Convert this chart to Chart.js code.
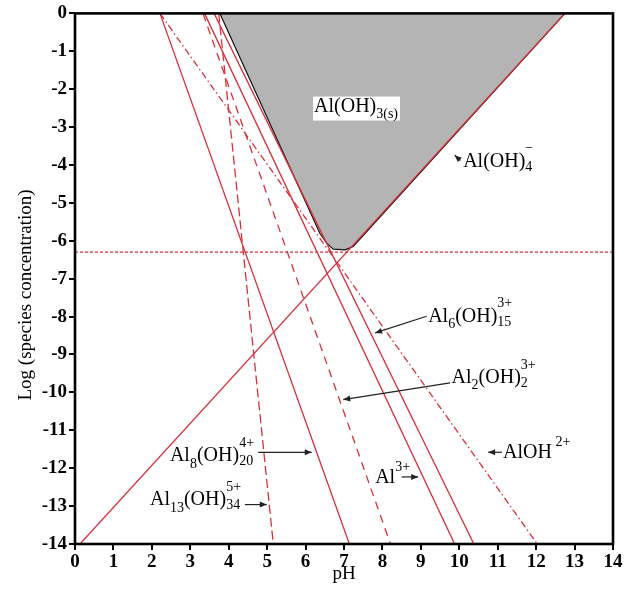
<!DOCTYPE html>
<html><head><meta charset="utf-8">
<script src="https://cdn.jsdelivr.net/npm/chart.js@4"></script>
<style>html,body{margin:0;padding:0;background:#fff}canvas{display:block}</style>
</head><body>
<canvas id="c" width="638" height="596"></canvas>
<script>
// ---- data ----
const speciesNames = ['Al8(OH)20 4+','Al13(OH)34 5+','Al2(OH)2 3+','Al3+','Al6(OH)15 3+','AlOH2+','Al(OH)4-'];
const lineStartPH  = [2.21, 3.74, 3.33, 3.37, 3.62, 2.21, 0.13];
const lineStartLog = [0, 0, 0, 0, 0, 0, -14];
const lineEndPH    = [7.14, 5.16, 8.21, 9.88, 10.38, 12.03, 12.75];
const lineEndLog   = [-14, -14, -14, -14, -14, -14, 0];
const lineDash     = [[], [9,4], [8,6], [], [], [7,3,1.5,3], []];
const boundaryPH   = [3.77, 6.37, 6.55, 6.72, 7.03, 7.24, 12.75];
const boundaryLog  = [0, -5.8, -6.06, -6.22, -6.24, -6.15, 0];
const saturationPH  = [0, 14];
const saturationLog = [-6.3, -6.3];

const RED = '#d7303b';
const FONT = '"Liberation Serif", "Times New Roman", serif';

const datasets = [];
datasets.push({
  label: 'Al(OH)3(s)',
  data: boundaryPH.map((x,i)=>({x, y: boundaryLog[i]})),
  showLine: true, pointRadius: 0, borderColor: '#111', borderWidth: 1.2,
  backgroundColor: '#b4b4b4', fill: 'end', order: 10
});
speciesNames.forEach((n,i)=>{
  datasets.push({
    label: n,
    data: [{x: lineStartPH[i], y: lineStartLog[i]}, {x: lineEndPH[i], y: lineEndLog[i]}],
    showLine: true, pointRadius: 0, borderColor: RED, borderWidth: 1.3,
    borderDash: lineDash[i], fill: false, order: 1
  });
});
datasets.push({
  label: 'saturation',
  data: saturationPH.map((x,i)=>({x, y: saturationLog[i]})),
  showLine: true, pointRadius: 0, borderColor: RED, borderWidth: 1.2,
  borderDash: [3,2], fill: false, order: 2
});

// annotation labels (positions in data units)
const annotations = [
  {x: 6.22, y: -2.59, parts: ['Al(OH)', {sub: '3(s)'}], box: true},
  {x: 10.10, y: -4.04, parts: ['Al(OH)', {sup: '\u2212', sub: '4'}], arrow: [10.03,-3.88, 9.88,-3.74]},
  {x: 9.19, y: -8.13, parts: ['Al', {sub: '6'}, '(OH)', {sup: '3+', sub: '15'}], arrow: [9.15,-7.99, 7.81,-8.43]},
  {x: 9.80, y: -9.75, parts: ['Al', {sub: '2'}, '(OH)', {sup: '3+', sub: '2'}], arrow: [9.76,-9.75, 6.98,-10.19]},
  {x: 11.14, y: -11.72, parts: ['AlOH', {sup: ' 2+'}], arrow: [11.11,-11.58, 10.75,-11.58]},
  {x: 7.81, y: -12.38, parts: ['Al', {sup: '3+'}], arrow: [8.50,-12.23, 8.93,-12.23]},
  {x: 2.47, y: -11.82, parts: ['Al', {sub: '8'}, '(OH)', {sup: '4+', sub: '20'}], arrow: [4.77,-11.58, 6.16,-11.58]},
  {x: 1.95, y: -12.98, parts: ['Al', {sub: '13'}, '(OH)', {sup: '5+', sub: '34'}], arrow: [4.42,-12.96, 4.99,-12.96]}
];

function richWidth(ctx, parts, fs){
  const sm = Math.round(fs*0.7); let w = 0;
  for (const p of parts){
    if (typeof p === 'string'){ ctx.font = fs+'px '+FONT; w += ctx.measureText(p).width; }
    else { ctx.font = sm+'px '+FONT; w += Math.max(p.sup?ctx.measureText(p.sup).width:0, p.sub?ctx.measureText(p.sub).width:0); }
  }
  return w;
}
function drawRich(ctx, x, y, parts, fs){
  const sm = Math.round(fs*0.7); let cx = x;
  ctx.textBaseline = 'alphabetic'; ctx.textAlign = 'left'; ctx.fillStyle = '#000';
  for (const p of parts){
    if (typeof p === 'string'){ ctx.font = fs+'px '+FONT; ctx.fillText(p, cx, y); cx += ctx.measureText(p).width; }
    else {
      ctx.font = sm+'px '+FONT; let w = 0;
      const stacked = p.sup && p.sub;
      if (p.sup){ ctx.fillText(p.sup, cx, y - fs*(stacked?0.72:0.58)); w = Math.max(w, ctx.measureText(p.sup).width); }
      if (p.sub){ ctx.fillText(p.sub, cx, y + fs*(stacked?0.2:0.32)); w = Math.max(w, ctx.measureText(p.sub).width); }
      cx += w;
    }
  }
}
function drawArrow(ctx, x1, y1, x2, y2){
  ctx.save(); ctx.strokeStyle = '#222'; ctx.fillStyle = '#222'; ctx.lineWidth = 1.2;
  ctx.beginPath(); ctx.moveTo(x1,y1); ctx.lineTo(x2,y2); ctx.stroke();
  const a = Math.atan2(y2-y1, x2-x1), L = 7, W = 3;
  ctx.beginPath(); ctx.moveTo(x2,y2);
  ctx.lineTo(x2 - L*Math.cos(a) + W*Math.sin(a), y2 - L*Math.sin(a) - W*Math.cos(a));
  ctx.lineTo(x2 - L*Math.cos(a) - W*Math.sin(a), y2 - L*Math.sin(a) + W*Math.cos(a));
  ctx.closePath(); ctx.fill(); ctx.restore();
}

const decor = {
  id: 'decor',
  afterDatasetsDraw(chart){
    const ctx = chart.ctx, xs = chart.scales.x, ys = chart.scales.y, a = chart.chartArea;
    ctx.save();
    for (const an of annotations){
      const px = xs.getPixelForValue(an.x), py = ys.getPixelForValue(an.y);
      if (an.box){
        const w = richWidth(ctx, an.parts, 20);
        ctx.fillStyle = '#fff'; ctx.fillRect(px-1, py-15, w+3, 24);
      }
      drawRich(ctx, px, py, an.parts, 20);
      if (an.arrow){
        const r = an.arrow;
        drawArrow(ctx, xs.getPixelForValue(r[0]), ys.getPixelForValue(r[1]), xs.getPixelForValue(r[2]), ys.getPixelForValue(r[3]));
      }
    }
    // frame
    ctx.strokeStyle = '#000'; ctx.lineWidth = 2.6;
    ctx.strokeRect(a.left, a.top, a.right-a.left, a.bottom-a.top);
    // axis titles
    ctx.fillStyle = '#000'; ctx.font = '19px '+FONT; ctx.textAlign = 'center'; ctx.textBaseline = 'middle';
    ctx.fillText('pH', (a.left+a.right)/2, 574);
    ctx.translate(26, 295); ctx.rotate(-Math.PI/2);
    ctx.fillText('Log (species concentration)', 0, 0);
    ctx.restore();
  }
};

const tickFont = {family: 'Liberation Serif', size: 19, weight: 'bold'};
new Chart(document.getElementById('c'), {
  type: 'scatter',
  data: {datasets},
  options: {
    responsive: false, animation: false, devicePixelRatio: 1,
    layout: {padding: {top: 13, right: 25, left: 0, bottom: 0}},
    plugins: {legend: {display: false}, tooltip: {enabled: false}},
    scales: {
      x: {type: 'linear', min: 0, max: 14,
          ticks: {stepSize: 1, font: tickFont, color: '#000', padding: 1, maxRotation: 0, autoSkip: false},
          grid: {drawOnChartArea: false, drawTicks: true, tickLength: 6, color: '#000', lineWidth: 2},
          border: {display: false},
          afterFit(s){ s.height = 52; }},
      y: {type: 'linear', min: -14, max: 0,
          ticks: {stepSize: 1, font: tickFont, color: '#000', padding: 2, autoSkip: false},
          grid: {drawOnChartArea: false, drawTicks: true, tickLength: 6, color: '#000', lineWidth: 2},
          border: {display: false},
          afterFit(s){ s.width = 75; }}
    }
  },
  plugins: [decor]
});
</script>
</body></html>
